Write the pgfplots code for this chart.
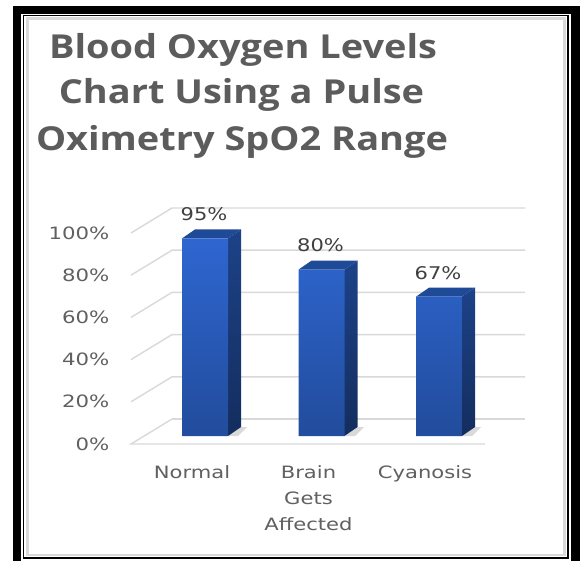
\documentclass[border=0pt]{standalone}
\usepackage{pgfplots}
\pgfplotsset{compat=1.18}
\usepackage{fontspec}
\setmainfont{DejaVu Sans}
\newfontfamily\titlefont{Open Sans}
\definecolor{titlegray}{HTML}{5C5C5C}
\definecolor{labgray}{HTML}{606060}
\definecolor{datagray}{HTML}{404040}
\definecolor{gridgray}{HTML}{D9D9D9}
\definecolor{frontT}{HTML}{2E66D0}
\definecolor{frontB}{HTML}{224C9C}
\definecolor{sideT}{HTML}{1D4288}
\definecolor{sideB}{HTML}{142D5E}
\definecolor{topc}{HTML}{1F4A98}
\begin{document}
\begin{tikzpicture}[x=1pt,y=-1pt]
\path[use as bounding box] (0,0) rectangle (580,561);
\fill[white] (0,0) rectangle (580,561);
\fill[black] (13,6) rectangle (580,561);
\fill[white] (21,14) rectangle (571,561);
\draw[black,line width=1.4pt] (23.3,15.8) rectangle (568,558);
\draw[gridgray,line width=2.6pt] (27.5,18.7) rectangle (564.5,555);
\tikzset{ttl/.style={text=titlegray,font=\titlefont\bfseries\fontsize{33}{33}\selectfont,xscale=1.15,anchor=center}}
\node[ttl] at (243,50) {Blood Oxygen Levels};
\node[ttl] at (241.5,95) {Chart Using a Pulse};
\node[ttl] at (242,142) {Oximetry SpO2 Range};
\coordinate (A) at (0,444);
\coordinate (B) at (0,436);
\begin{axis}[
  at={(A)},anchor=south west,
  scale only axis,width=580pt,height=211pt,
  xmin=0,xmax=580,ymin=0,ymax=100,
  clip=false,
  axis line style={draw=none},
  tick style={draw=none},
  ytick={0,20,40,60,80,100},
  yticklabels={0\%,20\%,40\%,60\%,80\%,100\%},
  xtick={192,308.5,425},
  xticklabels={Normal,Brain\\Gets\\Affected,Cyanosis},
  xticklabel style={align=center,text=labgray,font=\fontsize{17}{26}\selectfont,anchor=north,yshift=-18pt,xscale=1.24},
  yticklabel style={text=labgray,font=\fontsize{17}{18}\selectfont,anchor=east,xscale=1.25,xshift=91pt},
  /pgf/number format/assume math mode=true,
]
\addplot[gridgray,line width=1.4pt] coordinates {(131,20)(172,31.85)(525,31.85)};
\addplot[gridgray,line width=1.4pt] coordinates {(131,40)(172,51.85)(525,51.85)};
\addplot[gridgray,line width=1.4pt] coordinates {(131,60)(172,71.85)(525,71.85)};
\addplot[gridgray,line width=1.4pt] coordinates {(131,80)(172,91.85)(525,91.85)};
\addplot[gridgray,line width=1.4pt] coordinates {(131,100)(172,111.85)(525,111.85)};
\addplot[gridgray,line width=1.4pt] coordinates {(172,11.85)(525,11.85)};
\addplot[gridgray,line width=1.4pt] coordinates {(172,11.85)(131,0)(485,0)};
\end{axis}
\begin{axis}[
  at={(B)},anchor=south west,
  scale only axis,width=580pt,height=208pt,
  xmin=0,xmax=580,ymin=0,ymax=100,
  clip=false,axis lines=none,
]
\addplot[fill=gridgray,draw=none] coordinates {(228,0)(241,4.3)(247,4.3)(238,0)} --cycle;
\addplot[fill=gridgray,draw=none] coordinates {(345,0)(358,4.3)(364,4.3)(355,0)} --cycle;
\addplot[fill=gridgray,draw=none] coordinates {(462,0)(475,4.3)(481,4.3)(472,0)} --cycle;
\addplot[top color=sideT,bottom color=sideB,draw=none] coordinates {(228,0)(241,4.3)(241,99.3)(228,95)} --cycle;
\addplot[top color=sideT,bottom color=sideB,draw=none] coordinates {(344.5,0)(357.5,4.3)(357.5,84.3)(344.5,80)} --cycle;
\addplot[top color=sideT,bottom color=sideB,draw=none] coordinates {(462,0)(475,4.3)(475,71.3)(462,67)} --cycle;
\addplot[fill=topc,draw=none] coordinates {(182,95)(195,99.3)(241,99.3)(228,95)} --cycle;
\addplot[fill=topc,draw=none] coordinates {(298.5,80)(311.5,84.3)(357.5,84.3)(344.5,80)} --cycle;
\addplot[fill=topc,draw=none] coordinates {(416,67)(429,71.3)(475,71.3)(462,67)} --cycle;
\addplot[ybar,bar width=46,draw=none,top color=frontT,bottom color=frontB,
  nodes near coords={\pgfmathprintnumber[assume math mode=true]{\pgfplotspointmeta}\%},
  point meta=y,
  every node near coord/.append style={text=datagray,font=\fontsize{17.5}{18}\selectfont,anchor=center,xshift=-1pt,yshift=24pt,xscale=1.2}]
 coordinates {(205,95)(321.5,80)(439,67)};
\end{axis}
\end{tikzpicture}
\end{document}
